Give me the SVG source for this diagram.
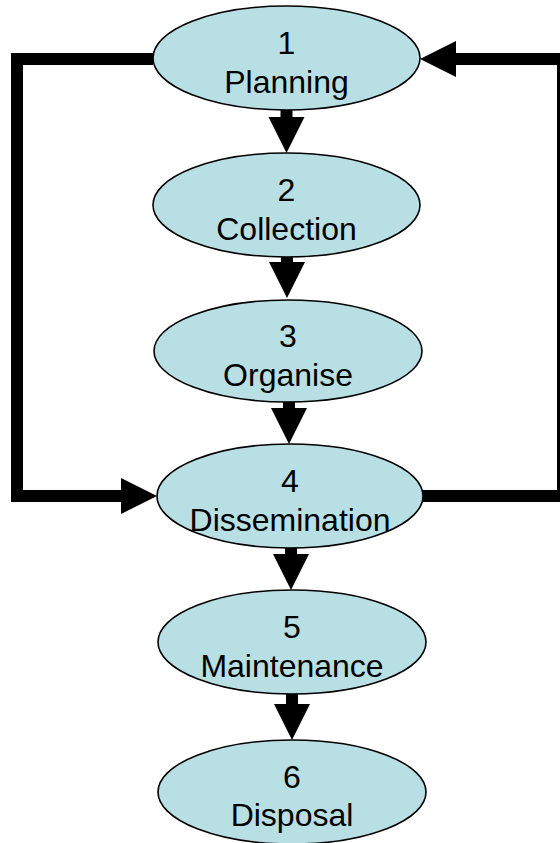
<svg xmlns="http://www.w3.org/2000/svg" width="560" height="843" viewBox="0 0 560 843">
<style>
.node ellipse{fill:#B8DFE3;stroke:#000;stroke-width:1.6}
.node text{font-family:"Liberation Sans",Arial,sans-serif;font-size:32px;fill:#000;text-anchor:middle}
.conn{fill:none;stroke:#000;stroke-width:12;stroke-linejoin:miter}
.shaft{fill:none;stroke:#000;stroke-width:12}
</style>
<defs>
<marker id="ah" markerUnits="userSpaceOnUse" markerWidth="37" markerHeight="37" refX="1" refY="18" orient="auto" overflow="visible">
<path d="M0,0 L36,18 L0,36 Z" fill="#000"/>
</marker>
</defs>
<rect width="560" height="843" fill="#fff"/>
<g id="connectors">
<path class="conn" d="M153,59 H17 V496 H122" marker-end="url(#ah)"/>
<path class="conn" d="M423,496 H563 V59 H455" marker-end="url(#ah)"/>
<path class="shaft" d="M286.5,108 V118" marker-end="url(#ah)"/>
<path class="shaft" d="M287,255 V263" marker-end="url(#ah)"/>
<path class="shaft" d="M289,400 V409" marker-end="url(#ah)"/>
<path class="shaft" d="M291,546 V555" marker-end="url(#ah)"/>
<path class="shaft" d="M292,693 V705" marker-end="url(#ah)"/>
</g>
<g id="n1" class="node"><ellipse cx="286.5" cy="58" rx="133.5" ry="52"/><text x="286.5" y="54">1</text><text x="286.5" y="93">Planning</text></g>
<g id="n2" class="node"><ellipse cx="286.5" cy="205" rx="133.5" ry="52"/><text x="286.5" y="201">2</text><text x="286.5" y="240">Collection</text></g>
<g id="n3" class="node"><ellipse cx="288" cy="351" rx="134" ry="51"/><text x="288" y="347">3</text><text x="288" y="386">Organise</text></g>
<g id="n4" class="node"><ellipse cx="290" cy="496" rx="133" ry="52"/><text x="290" y="492">4</text><text x="290" y="531">Dissemination</text></g>
<g id="n5" class="node"><ellipse cx="292" cy="642" rx="134" ry="52"/><text x="292" y="638">5</text><text x="292" y="677">Maintenance</text></g>
<g id="n6" class="node"><ellipse cx="292" cy="792" rx="134" ry="52"/><text x="292" y="788">6</text><text x="292" y="826">Disposal</text></g>
</svg>
